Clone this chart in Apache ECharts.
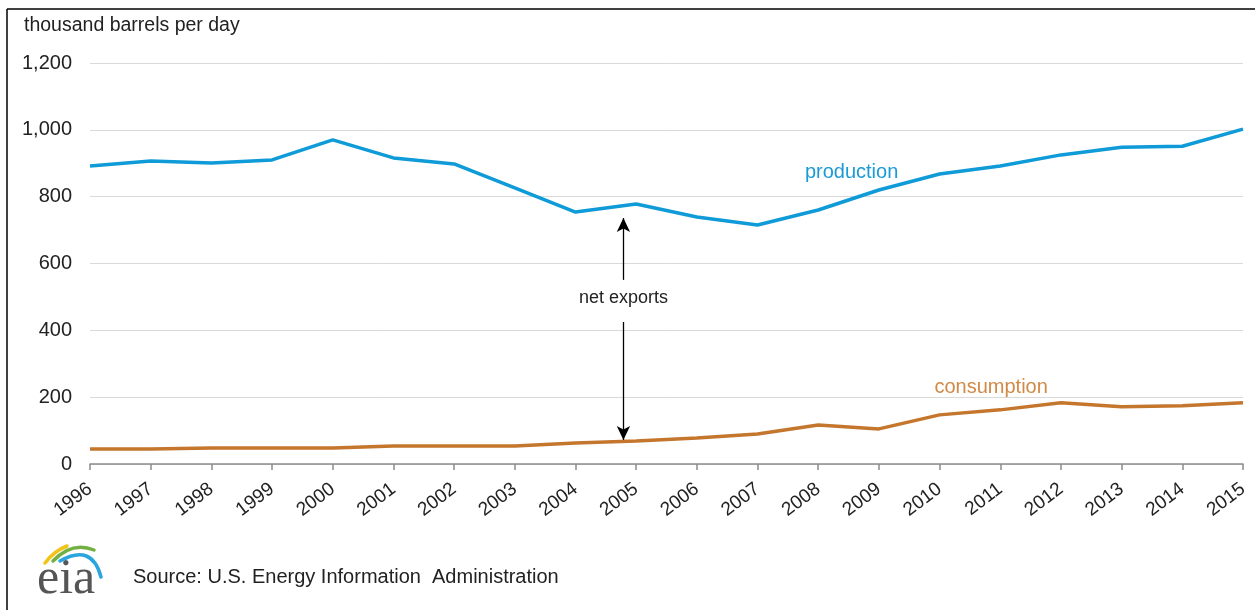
<!DOCTYPE html>
<html>
<head>
<meta charset="utf-8">
<script src="https://cdn.jsdelivr.net/npm/echarts@6/dist/echarts.min.js"></script>
<style>
html,body{margin:0;padding:0;background:#fff;}
#chart{width:1255px;height:610px;}
</style>
</head>
<body>
<div id="chart"></div>
<script>
const years = [1996,1997,1998,1999,2000,2001,2002,2003,2004,2005,2006,2007,2008,2009,2010,2011,2012,2013,2014,2015];
const production = [892,907,901,910,970,916,898,826,754,778,739,715,760,820,868,892,925,948,951,1002];
const consumption = [45,45,48,48,48,54,54,54,63,69,78,90,117,105,147,162,183,171,174,183];
const yTicks = [0,200,400,600,800,1000,1200];
const unitLabel = 'thousand barrels per day';
const sourceText = 'Source: U.S. Energy Information  Administration';
const arrowX = 2004.79;
const arrowUpper = [736, 551];
const arrowLower = [425, 72];
const arrowTextY = 497;
const prodLabelPos = [2008.55, 871];
const consLabelPos = [2010.85, 228];

const chart = echarts.init(document.getElementById('chart'));
const font = '"Liberation Sans", Arial, sans-serif';
const prodColor = '#0f9ad8';
const consColor = '#c5762d';

const option = {
  animation: false,
  grid: {left: 90, right: 12, top: 63, bottom: 146, containLabel: false},
  xAxis: {
    type: 'value', min: 1996, max: 2015, interval: 1,
    axisLine: {show: true, onZero: false, lineStyle: {color: '#8c8c8c', width: 1.5}},
    axisTick: {show: true, length: 6, lineStyle: {color: '#8c8c8c', width: 1.5}},
    splitLine: {show: false},
    axisLabel: {rotate: 37, color: '#222', fontFamily: font, fontSize: 19, margin: 23,
      formatter: v => String(v)}
  },
  yAxis: {
    type: 'value', min: 0, max: 1200, interval: 200,
    axisLine: {show: false}, axisTick: {show: false},
    splitLine: {show: true, lineStyle: {color: '#d9d9d9', width: 1}},
    axisLabel: {color: '#222', fontFamily: font, fontSize: 20, margin: 18,
      formatter: v => yTicks.includes(v) ? v.toLocaleString('en-US') : ''}
  },
  series: [
    {
      name: 'production', type: 'line', symbol: 'none',
      data: years.map((y,i) => [y, production[i]]),
      lineStyle: {color: prodColor, width: 3.5}, z: 3,
      markPoint: {
        symbol: 'circle', symbolSize: 0, silent: true,
        data: [{coord: prodLabelPos, label: {show: true, formatter: 'production', color: '#1a9ad6', fontFamily: font, fontSize: 20, position: 'inside'}}]
      },
      markLine: {
        silent: true, symbol: ['none','arrow'], symbolSize: [10, 14],
        lineStyle: {color: '#000', width: 1.3, type: 'solid'},
        label: {show: false},
        data: [
          [{coord: [arrowX, arrowUpper[1]]}, {coord: [arrowX, arrowUpper[0]]}],
          [{coord: [arrowX, arrowLower[0]]}, {coord: [arrowX, arrowLower[1]]}]
        ]
      }
    },
    {
      name: 'consumption', type: 'line', symbol: 'none',
      data: years.map((y,i) => [y, consumption[i]]),
      lineStyle: {color: consColor, width: 3.5}, z: 3,
      markPoint: {
        symbol: 'circle', symbolSize: 0, silent: true,
        data: [
          {coord: consLabelPos, label: {show: true, formatter: 'consumption', color: '#d08a45', fontFamily: font, fontSize: 20, position: 'inside'}},
          {coord: [arrowX, arrowTextY], label: {show: true, formatter: 'net exports', color: '#222', fontFamily: font, fontSize: 18, position: 'inside'}}
        ]
      }
    }
  ],
  graphic: [
    {type: 'line', shape: {x1: 7, y1: 9, x2: 1255, y2: 9}, style: {stroke: '#000', lineWidth: 1.5}},
    {type: 'line', shape: {x1: 7, y1: 9, x2: 7, y2: 610}, style: {stroke: '#000', lineWidth: 1.5}},
    {type: 'text', left: 24, top: 16, style: {text: unitLabel, fill: '#222', font: '19.5px "Liberation Sans", Arial, sans-serif'}},
    {type: 'text', left: 133, top: 567, style: {text: sourceText, fill: '#222', font: '20px "Liberation Sans", Arial, sans-serif'}},
    {type: 'text', left: 37, top: 555, style: {text: 'eia', fill: '#555', font: '50px "Liberation Serif", "DejaVu Serif", serif'}},
    {type: 'bezierCurve', shape: {x1: 45, y1: 563, cpx1: 54, cpy1: 551, x2: 67, y2: 546}, style: {stroke: '#f2c318', lineWidth: 3.5, fill: null, lineCap: 'round'}},
    {type: 'bezierCurve', shape: {x1: 53, y1: 561, cpx1: 72, cpy1: 541, x2: 94, y2: 550}, style: {stroke: '#72b043', lineWidth: 3.5, fill: null, lineCap: 'round'}},
    {type: 'bezierCurve', shape: {x1: 60, y1: 561, cpx1: 92, cpy1: 543, x2: 101, y2: 577}, style: {stroke: '#2aa5dd', lineWidth: 3.5, fill: null, lineCap: 'round'}}
  ]
};
chart.setOption(option);
</script>
</body>
</html>
